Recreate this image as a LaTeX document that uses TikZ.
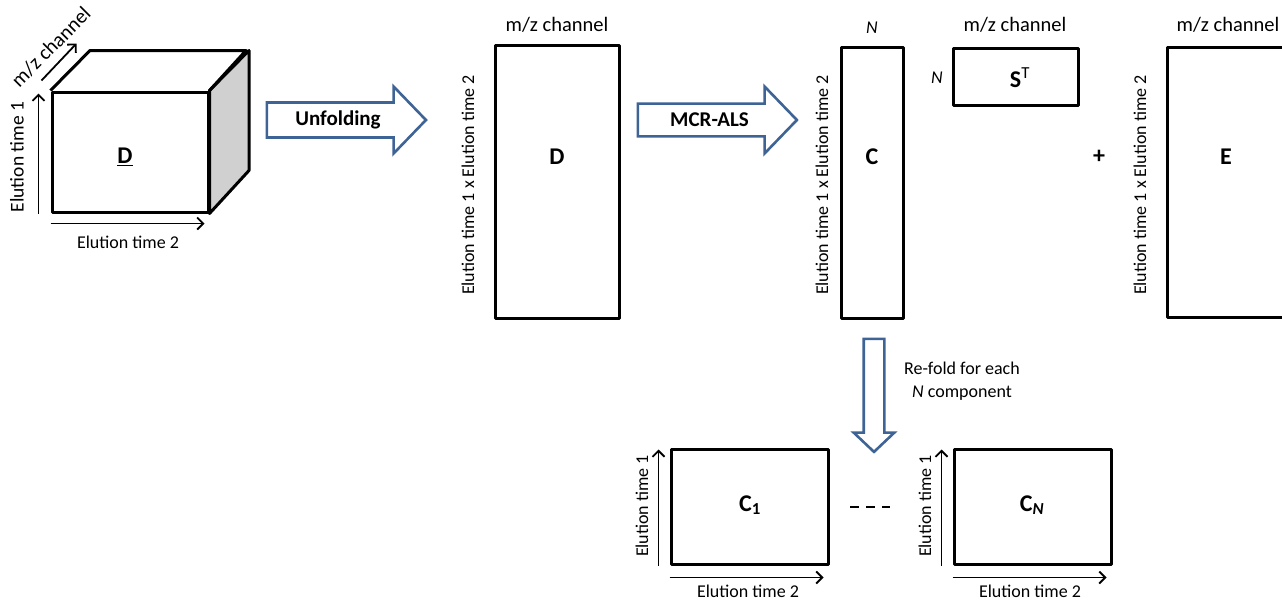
\documentclass[tikz,border=0pt]{standalone}
\usepackage{fontspec}
\setmainfont{Carlito}
\usetikzlibrary{shapes.arrows,arrows.meta}

\definecolor{arrowblue}{RGB}{62,100,150}
\definecolor{sidegray}{RGB}{208,208,208}

\tikzset{
  mat/.style={draw,line width=3pt,inner sep=0pt,line join=round},
  axis/.style={line width=1.8pt,-{Straight Barb[length=6pt,width=12pt,line width=1.8pt]}},
  lab/.style={font=\fontsize{18}{21}\selectfont,inner sep=0pt},
  mz/.style={font=\fontsize{20.5}{24}\selectfont,inner sep=0pt},
  big/.style={font=\fontsize{24}{28}\selectfont\bfseries,inner sep=0pt},
  blockarrow/.style={single arrow,draw=arrowblue,line width=2.6pt,fill=white,
    single arrow head extend=16pt,single arrow tip angle=92,inner xsep=2pt,inner ysep=7pt,
    font=\fontsize{21}{24}\selectfont\bfseries}
}

\begin{document}
\begin{tikzpicture}[x=1pt,y=-1pt]
\useasboundingbox (0,0) rectangle (1282,600);

%cube
\node[mat,minimum width=156pt,minimum height=120pt] (cube) at (130,152) {};
\filldraw[mat,fill=sidegray] (cube.north east) -- ++(39.5,-40) -- ++(0,120) -- (cube.south east) -- cycle;
\draw[mat] (cube.north west) -- ++(39.5,-40) -- ++(156,0) -- (cube.north east);
\node[big] (cubeD) at (125,157) {\underline{D}};
\draw[axis] ([xshift=-12pt]cube.south west) -- ([xshift=-12pt,yshift=-3pt]cube.north west);
\draw[axis] ([yshift=-10pt]cube.south west) -- ([xshift=-5pt,yshift=-10pt]cube.south east);
\draw[axis] ([xshift=-9pt,yshift=10pt]cube.north west) -- ([xshift=26pt,yshift=47pt]cube.north west);
\node[font=\fontsize{19.5}{23}\selectfont,inner sep=0pt,rotate=90] (cubet1) at (17,157) {Elution time 1};
\node[lab] (cubet2) at (128,242) {Elution time 2};
\node[mz,rotate=45] (cubemz) at (51,47) {m/z channel};

%unfolding
\node[blockarrow,minimum height=159pt,minimum width=67pt] (unfold) at (338,120) {Unfolding};

%D matrix
\node[mat,minimum width=124pt,minimum height=273pt] (Dmat) at (557,181.5) {};
\node[big] (Dlab) at (557,157) {D};
\node[mz] (Dtop) at (557,25) {m/z channel};
\node[lab,rotate=90] (Dside) at (468,185) {Elution time 1 x Elution time 2};

%mcr-als
\node[blockarrow,minimum height=159pt,minimum width=67pt] (mcr) at (709.5,120) {MCR-ALS};

%C matrix
\node[mat,minimum width=62pt,minimum height=271pt] (Cmat) at (872,182.5) {};
\node[big] (Clab) at (872,157) {C};
\node[lab] (Ctop) at (872,28) {\itshape N};
\node[lab,rotate=90] (Cside) at (822,185) {Elution time 1 x Elution time 2};

%S^T
\node[mat,minimum width=125pt,minimum height=57pt] (Smat) at (1015.5,76.5) {};
\node[big] (Slab) at (1020,78) {S\textsuperscript{\mdseries T}};
\node[lab] (Sleft) at (937,78) {\itshape N};
\node[mz] (Stop) at (1015,25) {m/z channel};

%E
\node[big] (plus) at (1099,157) {+};
\node[mat,minimum width=130pt,minimum height=270pt] (Emat) at (1232,182) {};
\node[big] (Elab) at (1226,157) {E};
\node[mz] (Etop) at (1228,25) {m/z channel};
\node[lab,rotate=90] (Eside) at (1140,185) {Elution time 1 x Elution time 2};

%refold
\node[blockarrow,shape border rotate=270,minimum height=113pt,minimum width=38pt,
  inner xsep=9pt,inner ysep=2pt,
  single arrow head extend=10pt,single arrow tip angle=93] (refold) at (874,390.5) {};
\node[lab,align=center] (refoldlab) at (962,381) {Re-fold for each\\[2pt]\textit{N} component};

%C1 and CN
\node[mat,minimum width=157pt,minimum height=115pt] (C1) at (749.5,506.5) {};
\node[big] (C1lab) at (750,505) {C\textsubscript{1}};
\draw[axis] ([xshift=-11pt]C1.south west) -- ([xshift=-11pt,yshift=-2pt]C1.north west);
\draw[axis] ([yshift=-12pt]C1.south west) -- ([xshift=-6pt,yshift=-12pt]C1.south east);
\node[lab,rotate=90] (C1t1) at (642,506) {Elution time 1};
\node[lab] (C1t2) at (748,591) {Elution time 2};

\coordinate (dotsa) at (850,507);
\coordinate (dotsb) at (890,507);
\draw[line width=1.8pt,dash pattern=on 9pt off 7pt] (dotsa) -- (dotsb);

\node[mat,minimum width=157pt,minimum height=115pt] (CN) at (1032.5,506.5) {};
\node[big] (CNlab) at (1032,505) {C\textsubscript{\itshape N}};
\draw[axis] ([xshift=-11pt]CN.south west) -- ([xshift=-11pt,yshift=-2pt]CN.north west);
\draw[axis] ([yshift=-12pt]CN.south west) -- ([xshift=-6pt,yshift=-12pt]CN.south east);
\node[lab,rotate=90] (CNt1) at (925,506) {Elution time 1};
\node[lab] (CNt2) at (1030,591) {Elution time 2};
\end{tikzpicture}
\end{document}
